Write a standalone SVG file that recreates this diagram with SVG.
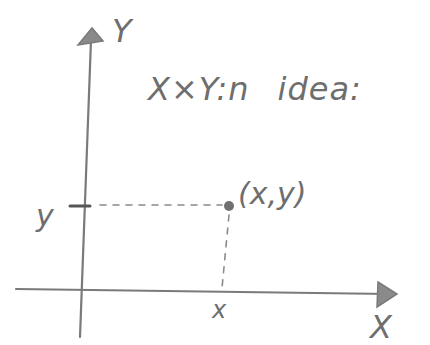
<svg xmlns="http://www.w3.org/2000/svg" width="430" height="345" viewBox="0 0 430 345">
<style>
.ax{stroke:#7a7a7a;stroke-width:2.2;fill:none;stroke-linecap:round}
.dash{stroke:#8a8a8a;stroke-width:1.6;fill:none;stroke-dasharray:6 7;stroke-linecap:round}
.t{font-family:"DejaVu Sans","Liberation Sans",sans-serif;font-style:italic;fill:#6e6e6e}
</style>
<rect width="430" height="345" fill="#fff"/>
<g id="connectors">
<path class="ax" d="M80,337 L91,40"/>
<path d="M78,45 L92,28 L103,41 z" fill="#8a8a8a" stroke="#7a7a7a" stroke-width="1.5"/>
<path class="ax" d="M16,289 L390,294"/>
<path d="M378,282 L397,294 L377,307 z" fill="#8a8a8a" stroke="#7a7a7a" stroke-width="1.5"/>
<path class="dash" d="M100,205 L222,205"/>
<path class="dash" d="M229,215 L222,288"/>
<path d="M70,206 L90,206" stroke="#555" stroke-width="3" stroke-linecap="round"/>
</g>
<g id="point">
<circle cx="229" cy="206" r="5" fill="#707070"/>
</g>
<g id="labels">
<text class="t" x="112" y="42" font-size="32">Y</text>
<text class="t" x="148" y="100" font-size="32" letter-spacing="1">X×Y:n<tspan dx="28">idea:</tspan></text>
<text class="t" x="36" y="226" font-size="30">y</text>
<text class="t" x="212" y="318" font-size="24">x</text>
<text class="t" x="238" y="204" font-size="30">(x,y)</text>
<text class="t" x="370" y="338" font-size="32">X</text>
</g>
</svg>
